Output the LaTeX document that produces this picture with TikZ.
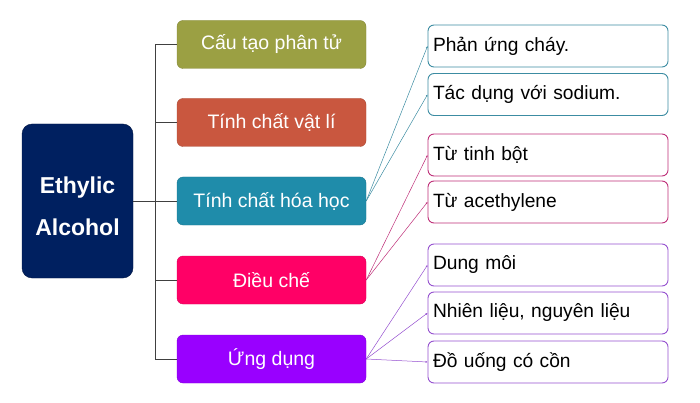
\documentclass[tikz,border=0pt]{standalone}
\usepackage{fontspec}
\setmainfont{Liberation Sans}
\usetikzlibrary{arrows.meta}
\definecolor{navy}{HTML}{002060}
\definecolor{olive}{HTML}{9BA043}
\definecolor{brick}{HTML}{C9573F}
\definecolor{teal}{HTML}{1F8CAA}
\definecolor{rose}{HTML}{FF0066}
\definecolor{violet}{HTML}{9900FF}
\definecolor{tealline}{HTML}{3C8CA2}
\definecolor{roseline}{HTML}{BE2E78}
\definecolor{violetline}{HTML}{9550CF}

\begin{document}
\begin{tikzpicture}[x=1pt,y=-1pt]
  \tikzset{RootStyle/.style = {%
      rounded corners=10pt, fill=navy, draw=navy!70!black,
      minimum width=111pt, minimum height=154pt,
      text=white, align=center, font=\fontsize{23}{42}\selectfont\bfseries},
    TopicStyle/.style = {%
      rounded corners=6pt, fill=#1, draw=#1!85!black,
      minimum width=189pt, minimum height=48pt,
      text=white, font=\fontsize{19.5}{22}\selectfont},
    LeafStyle/.style = {%
      rounded corners=6pt, fill=white, draw=#1, line width=0.9pt,
      text width=230pt, inner sep=5pt, align=left,
      minimum height=42pt, font=\fontsize{19.2}{22}\selectfont},
    TreeLine/.style = {draw=black!75, line width=0.8pt},
    LeafLine/.style = {draw=#1, line width=0.5pt,
      -{Latex[length=2pt,width=2pt]}}}
  \useasboundingbox (0,0) rectangle (700,403);
  % root
  \node[RootStyle] (root) at (77.5,201) {};
  \node[text=white, align=center, font=\fontsize{23}{42}\selectfont\bfseries]
    (rootlbl) at (77.5,206) {Ethylic\\Alcohol};
  % topics
  \node[TopicStyle=olive]  (cau)   at (271.5,44.5) {Cấu tạo phân tử};
  \node[TopicStyle=brick]  (vatli) at (271.5,122.5) {Tính chất vật lí};
  \node[TopicStyle=teal]   (hoa)   at (271.5,201) {Tính chất hóa học};
  \node[TopicStyle=rose]   (dieu)  at (271.5,280) {Điều chế};
  \node[TopicStyle=violet] (ung)   at (271.5,359) {Ứng dụng};
  % leaves
  \node[LeafStyle=tealline]   (chay)   at (548,46)    {Phản ứng cháy.};
  \node[LeafStyle=tealline]   (sodium) at (548,94.5)  {Tác dụng với sodium.};
  \node[LeafStyle=roseline]   (bot)    at (548,155)   {Từ tinh bột};
  \node[LeafStyle=roseline]   (acet)   at (548,202)   {Từ acethylene};
  \node[LeafStyle=violetline] (moi)    at (548,265)   {Dung môi};
  \node[LeafStyle=violetline] (lieu)   at (548,313)   {Nhiên liệu, nguyên liệu};
  \node[LeafStyle=violetline] (uong)   at (548,362)   {Đồ uống có cồn};
  % tree
  \coordinate (trunk) at (155,201);
  \draw[TreeLine] (root.east) -- (trunk);
  \draw[TreeLine] (trunk |- cau) -- (trunk |- ung);
  \foreach \t in {cau,vatli,hoa,dieu,ung}
    \draw[TreeLine] (trunk |- \t) -- (\t.west);
  % links to leaves
  \foreach \l in {chay,sodium}
    \draw[LeafLine=tealline] (hoa.east) -- (\l.west);
  \foreach \l in {bot,acet}
    \draw[LeafLine=roseline] (dieu.east) -- (\l.west);
  \foreach \l in {moi,lieu,uong}
    \draw[LeafLine=violetline] (ung.east) -- (\l.west);
\end{tikzpicture}
\end{document}
